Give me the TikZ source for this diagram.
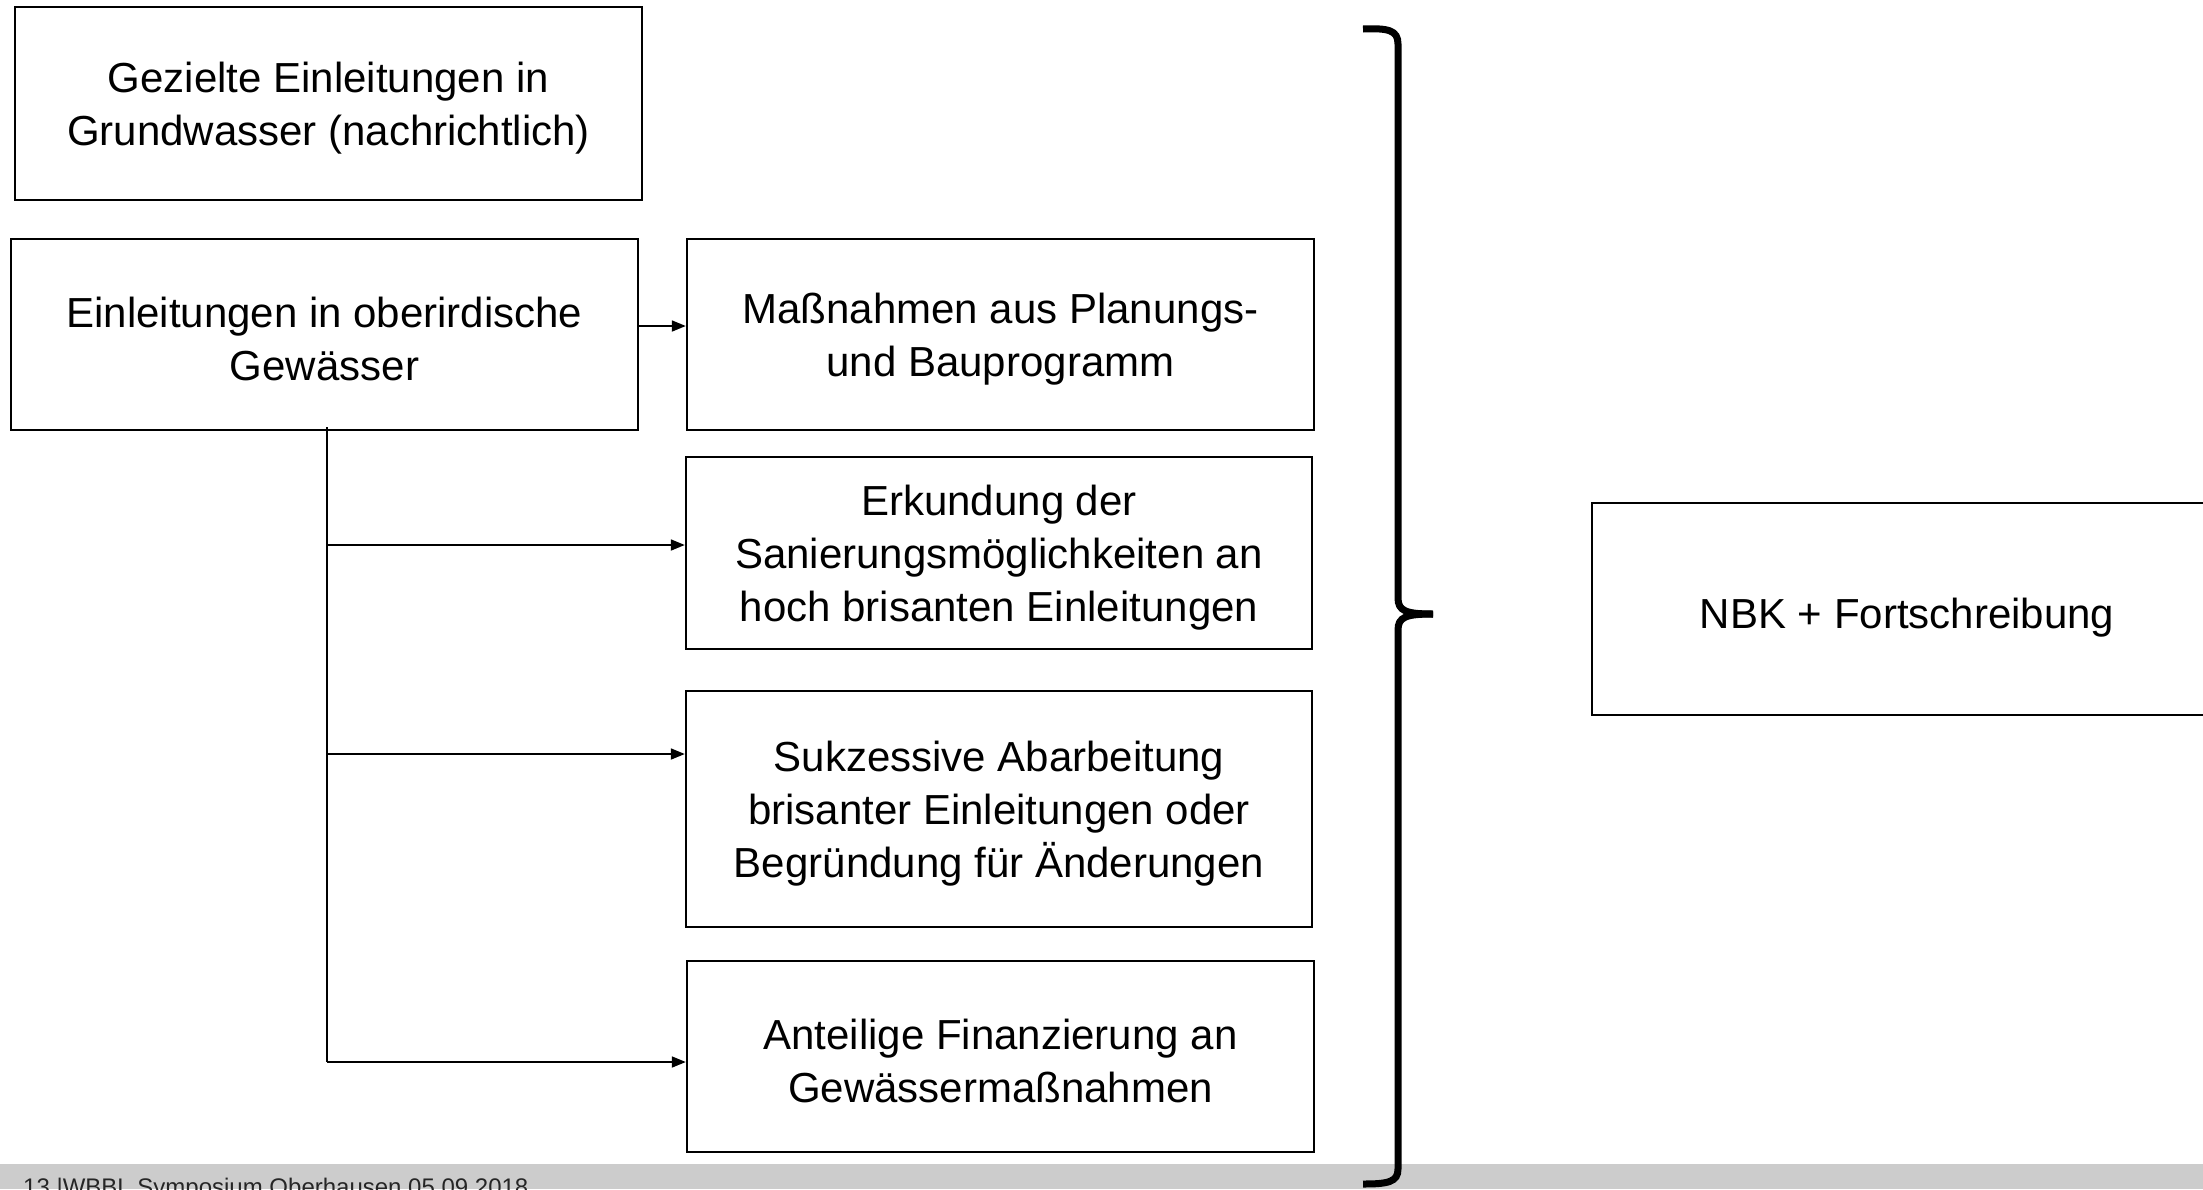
\documentclass[tikz,border=0pt]{standalone}
\usepackage{fontspec}
\setmainfont{Liberation Sans}
\usetikzlibrary{arrows.meta}
\newcommand\mystrut{\rule{0pt}{39pt}}
\newcommand\mytallstrut{\rule{0pt}{48pt}}
\begin{document}
\begin{tikzpicture}[x=1pt,y=-1pt,
  box/.style={draw,line width=2.4pt,rectangle,inner sep=0pt,align=center,
    font=\fontsize{42}{53}\selectfont},
  conn/.style={line width=1.8pt,-{Triangle[length=14pt,width=11pt]}},
  stem/.style={line width=1.3pt},
  bracestyle/.style={line width=7pt}]
\useasboundingbox (0,0) rectangle (2203,1189);
\fill[white] (0,0) rectangle (2203,1189);
% footer band and text
\begin{scope}
\clip (0,0) rectangle (2203,1189);
\fill[gray!40] (0,1164) rectangle (2203,1189);
\node[anchor=base west,inner sep=0pt,font=\fontsize{24}{28}\selectfont,text=black!85] (foot) at (23,1195) {13 |WBBL Symposium Oberhausen 05.09.2018};
\end{scope}
% boxes
\node[box,minimum width=627pt,minimum height=193pt] (gw) at (328.5,103.5) {\mystrut Gezielte Einleitungen in\\Grundwasser (nachrichtlich)};
\node[box,minimum width=627pt,minimum height=191pt] (ow) at (324.5,334.5) {\mystrut Einleitungen in oberirdische\\Gewässer};
\node[box,minimum width=627pt,minimum height=191pt] (mb) at (1000.5,334.5) {\mystrut Maßnahmen aus Planungs-\\und Bauprogramm};
\node[box,minimum width=626pt,minimum height=192pt] (er) at (999,553) {\mystrut Erkundung der\\Sanierungsmöglichkeiten an\\hoch brisanten Einleitungen};
\node[box,minimum width=626pt,minimum height=236pt] (sa) at (999,809) {\mystrut Sukzessive Abarbeitung\\brisanter Einleitungen oder\\Begründung für Änderungen};
\node[box,minimum width=627pt,minimum height=191pt] (af) at (1000.5,1056.5) {\mystrut Anteilige Finanzierung an\\Gewässermaßnahmen};
\node[box,minimum width=630pt,minimum height=212pt] (nbk) at (1907,609) {\mytallstrut NBK + Fortschreibung};
% connectors
\coordinate (top) at (327,427);
\coordinate (bot) at (327,1062);
\draw[conn] (ow.east |- 0,326) -- (mb.west |- 0,326);
\draw[stem] (top) -- (bot);
\draw[conn] (top |- 0,545) -- (er.west |- 0,545);
\draw[conn] (top |- 0,754) -- (sa.west |- 0,754);
\draw[conn] (bot) -- (af.west |- bot);
% brace
\draw[bracestyle] (1363,29) .. controls (1388,28) and (1398,30) .. (1398,44) -- (1398,598)
  .. controls (1398,611) and (1406,614) .. (1433,614);
\draw[bracestyle] (1433,614) .. controls (1406,614) and (1398,617) .. (1398,630) -- (1398,1169)
  .. controls (1398,1182) and (1388,1184) .. (1363,1184);
\end{tikzpicture}
\end{document}
